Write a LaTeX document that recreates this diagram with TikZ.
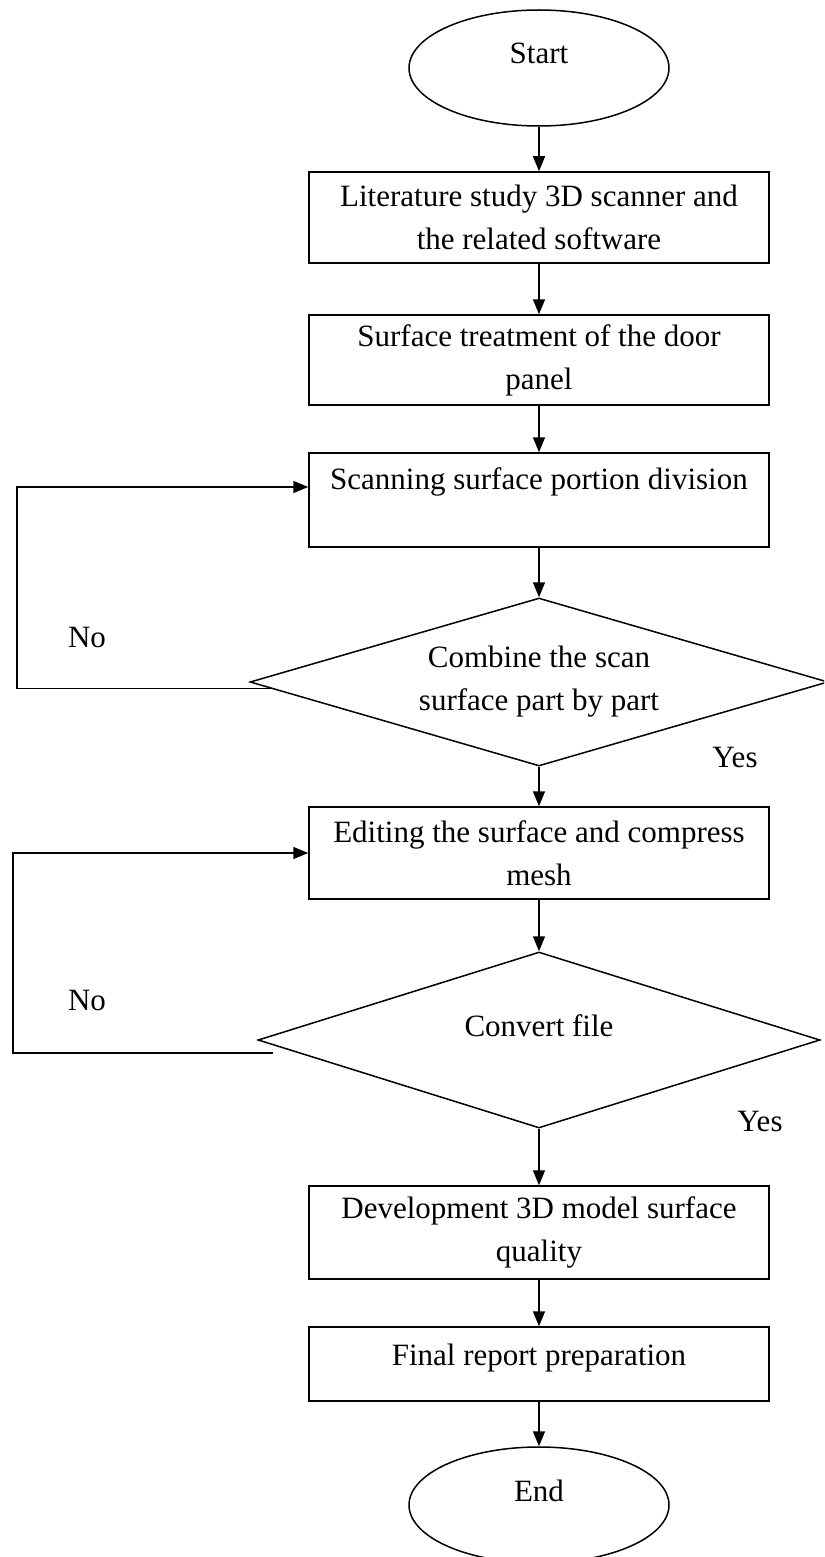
\documentclass[tikz,border=0pt]{standalone}
\usepackage{fontspec}
\setmainfont{Liberation Serif}
\usetikzlibrary{shapes.geometric, arrows.meta, calc}

\begin{document}
\begin{tikzpicture}[
    x = 0.5pt, y = -0.5pt, line width = 0.75pt,
    every node/.style = {font = \fontsize{15.5}{21.5}\selectfont, align = center, inner sep = 0pt},
    terminal/.style = {draw, ellipse, minimum width = 130pt, minimum height = 58pt},
    process/.style = {draw, rectangle, minimum width = 230pt, minimum height = 46pt},
    decision/.style = {draw, diamond, aspect = 3.4, minimum width = 289pt, minimum height = 84pt},
    lifted/.style = {text height = 11pt, text depth = #1},
    flow/.style = {-{Triangle[length = 7.5pt, width = 6pt]}}
  ]
  \clip (0,0) rectangle (824,1557);

  % Steps
  \node[terminal, lifted = 15pt] (start) at (539,68) {Start};
  \node[process, minimum height = 45.5pt] (lit) at (539,217.5)
    {Literature study 3D scanner and\\the related software};
  \node[process, minimum height = 45pt] (treat) at (539,360)
    {Surface treatment of the door\\panel};
  \node[process, minimum height = 47pt] (scan) at (539,500)
    {Scanning surface portion division\\\mbox{}};
  \node[decision] (combine) at (539,682)
    {Combine the scan\\surface part by part};
  \node[process] (edit) at (539,853)
    {Editing the surface and compress\\mesh};
  \node[decision, aspect = 3.2, minimum width = 281pt, minimum height = 88pt, lifted = 15pt]
    (convert) at (539,1040) {Convert file};
  \node[process, minimum height = 46.5pt] (model) at (539,1232.5)
    {Development 3D model surface\\quality};
  \node[process, minimum height = 37pt, lifted = 10pt] (report) at (539,1364)
    {Final report preparation};
  \node[terminal, lifted = 15pt] (end) at (539,1505) {End};

  % Main flow
  \foreach \a/\b in {start/lit, lit/treat, treat/scan, scan/combine,
      combine/edit, edit/convert, convert/model, model/report, report/end}
    \draw[flow] (\a) -- (\b);

  % Loops back
  \draw[flow] ($(combine.west)!0.075!(combine.south)$) -- ++(-254,0)
    |- ([yshift = 6.5pt]scan.west);
  \coordinate (convertno) at (273,1053);
  \draw[flow] (convertno) -- ++(-260,0) |- (edit.west);

  % Labels
  \node (no1) at (87,637) {No};
  \node (yes1) at (735,757) {Yes};
  \node (no2) at (87,1000) {No};
  \node (yes2) at (760,1121) {Yes};
\end{tikzpicture}
\end{document}
